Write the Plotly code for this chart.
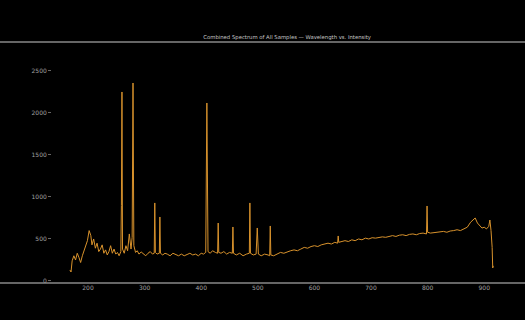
import plotly.graph_objects as go

wavelength = [168, 170, 172, 175, 178, 181, 184, 187, 190, 193, 196, 199, 202, 205, 207, 210, 213, 216,
              219, 222, 225, 228, 231, 234, 237, 240, 243, 246, 249, 252, 255, 258, 259, 260, 261, 264,
              267, 270, 273, 276, 278, 279.5, 281, 284, 287, 290, 294, 298, 302, 306, 310, 314, 317, 318,
              319, 322, 326, 327, 328, 332, 336, 340, 345, 350, 355, 360, 365, 370, 375, 380, 385, 390,
              395, 400, 404, 408, 410, 412, 416, 420, 425, 429, 430, 431, 435, 440, 445, 450, 455, 456,
              457, 462, 468, 474, 480, 485, 486, 487, 492, 497, 499, 501, 506, 512, 518, 521, 522, 523,
              528, 534, 540, 546, 552, 558, 564, 570, 576, 582, 588, 594, 600, 606, 612, 618, 624, 630,
              636, 641, 642, 643, 648, 654, 660, 666, 672, 678, 684, 690, 696, 702, 708, 714, 720, 726,
              732, 738, 744, 750, 756, 762, 768, 774, 780, 786, 792, 798, 799, 800, 805, 810, 816, 822,
              828, 834, 840, 846, 852, 858, 864, 870, 876, 880, 884, 888, 892, 896, 900, 904, 908, 910,
              912, 914, 915, 916]
intensity = [131, 107, 240, 300, 250, 330, 280, 220, 300, 360, 420, 480, 600, 540, 430, 500, 390, 450,
             350, 380, 430, 330, 370, 310, 350, 420, 330, 380, 320, 340, 300, 350, 900, 2250, 380, 330,
             420, 360, 560, 380, 520, 2357, 420, 340, 360, 320, 345, 320, 300, 330, 350, 320, 330, 929,
             340, 320, 330, 762, 330, 310, 330, 320, 300, 330, 310, 300, 320, 300, 315, 330, 310, 320,
             300, 330, 320, 340, 2119, 350, 330, 360, 340, 330, 690, 340, 330, 350, 320, 340, 330, 643,
             330, 310, 330, 300, 320, 330, 929, 330, 310, 320, 631, 320, 300, 320, 310, 300, 655, 310,
             300, 320, 340, 330, 350, 360, 370, 360, 380, 400, 390, 410, 420, 410, 430, 440, 450, 440,
             460, 450, 536, 460, 470, 480, 470, 490, 480, 500, 490, 510, 500, 515, 510, 520, 525, 520,
             530, 540, 530, 545, 550, 540, 555, 560, 550, 565, 570, 560, 893, 580, 570, 575, 580, 585,
             590, 580, 595, 600, 610, 600, 620, 640, 700, 720, 750, 690, 660, 630, 640, 620, 650, 726,
             600, 400, 155, 180]

x_ticks = [200, 300, 400, 500, 600, 700, 800, 900]
y_ticks = [0, 500, 1000, 1500, 2000, 2500]

fig = go.Figure()
fig.add_trace(go.Scatter(
    x=wavelength, y=intensity, mode="lines",
    line=dict(color="#d8922c", width=1),
    showlegend=False,
))

fig.update_layout(
    width=525, height=320,
    paper_bgcolor="#000000", plot_bgcolor="#000000",
    margin=dict(l=52, r=20, t=42, b=37),
    title=dict(text="Combined Spectrum of All Samples \u2014 Wavelength vs. Intensity",
               x=0.547, xanchor="center", yref="container", y=0.878, yanchor="bottom",
               font=dict(family="DejaVu Sans", size=5.3, color="#c8c8c8")),
    font=dict(family="DejaVu Sans", size=6, color="#aaaaaa"),
    xaxis=dict(range=[136.4, 936.7], tickvals=x_ticks, showgrid=False, zeroline=False,
               showline=False, ticks="", tickfont=dict(size=6, color="#a0a0a0")),
    yaxis=dict(range=[-24, 2845], tickvals=y_ticks, showgrid=False, zeroline=False,
               showline=False, ticks="outside", ticklen=3, tickcolor="#666666",
               tickfont=dict(size=6, color="#a0a0a0")),
    shapes=[
        dict(type="line", xref="paper", yref="paper", x0=-0.13, x1=1.05, y0=1.0, y1=1.0,
             line=dict(color="#888888", width=1.5)),
        dict(type="line", xref="paper", yref="paper", x0=-0.13, x1=1.05, y0=0.0, y1=0.0,
             line=dict(color="#888888", width=1.5)),
    ],
)

fig.write_html("out.html", config={"displayModeBar": False},
               post_script="document.body.style.margin='0';document.body.style.background='#000';")
